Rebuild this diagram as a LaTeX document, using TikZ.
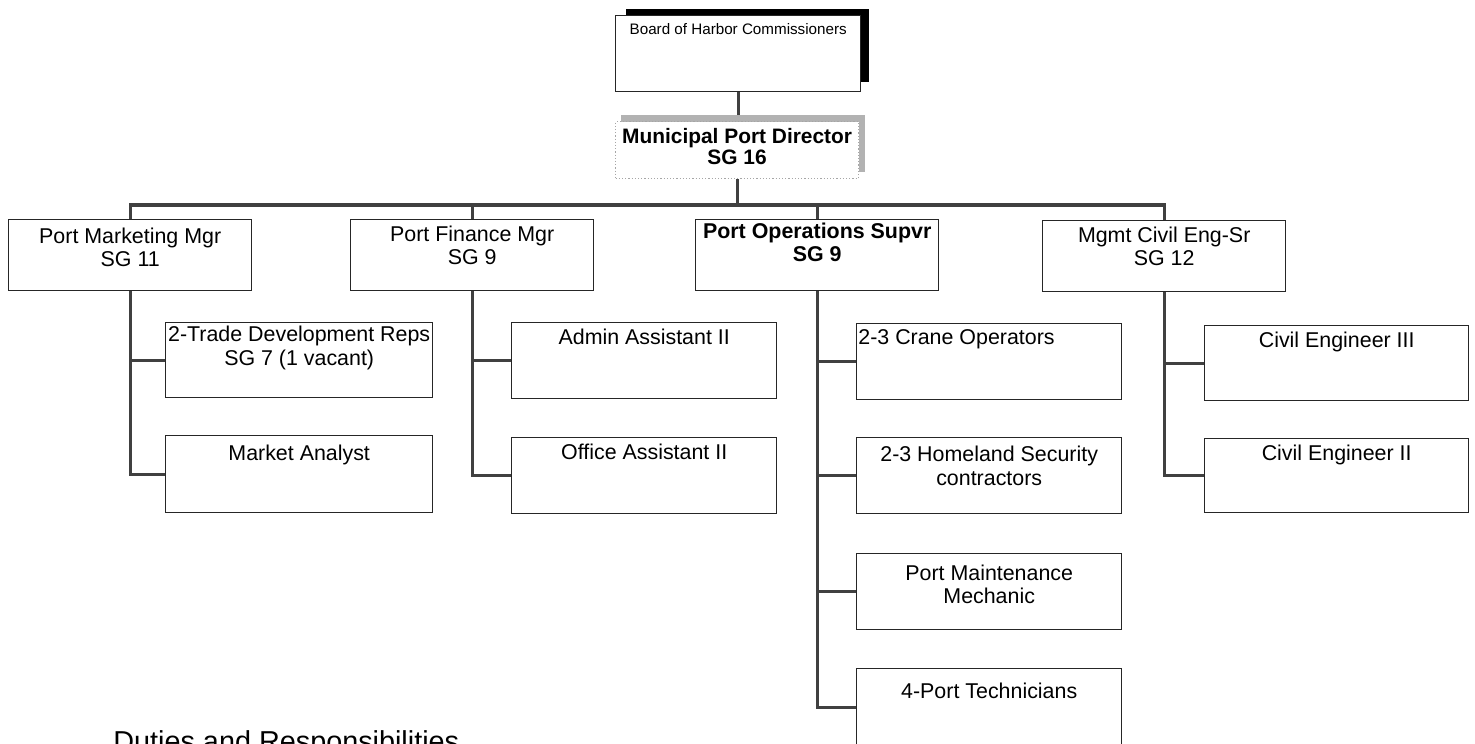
\documentclass[tikz,border=0pt]{standalone}
\usepackage{fontspec}
\setmainfont{Liberation Sans}
\usetikzlibrary{positioning}
\begin{document}
\begin{tikzpicture}[x=0.5pt,y=-0.5pt,
  box/.style={draw=black!85, line width=0.7pt, fill=white, inner sep=0pt, anchor=north west},
  dirbox/.style={draw=gray!70, densely dotted, line width=0.6pt, fill=white, inner sep=0pt, anchor=north west},
  conn/.style={draw=black!75, line width=1.6pt},
  lbl/.style={inner sep=0pt, align=center, font=\fontsize{10.7}{11.6}\selectfont},
  blbl/.style={inner sep=0pt, align=center, font=\fontsize{10.7}{11.6}\selectfont\bfseries},
  topw/.style={minimum width=121.5pt, minimum height=35.5pt},
  childw/.style={minimum width=132.5pt, minimum height=38pt}]
\clip (0,0) rectangle (1475,743);
\fill[white] (0,0) rectangle (1475,743);

% shadows
\fill[black] (626,9) rectangle (869,82);
\fill[gray!60] (621,115) rectangle (865,172);

% boxes
\node[box, minimum width=122.5pt, minimum height=38pt] (board) at (615,15) {};
\node[dirbox, minimum width=121.5pt, minimum height=28.5pt] (dir) at (615,121) {};

\node[box, topw] (pm) at (8,219) {};
\node[box, topw] (pf) at (350,219) {};
\node[box, topw] (po) at (695,219) {};
\node[box, topw] (pc) at (1042,220) {};

\node[box, minimum width=133.5pt, minimum height=37.5pt] (td) at (165,322) {};
\node[box, minimum width=133.5pt, minimum height=38.5pt] (ma) at (165,435) {};
\node[box, childw] (aa) at (511,322) {};
\node[box, childw] (oa) at (511,437) {};
\node[box, childw] (co) at (856,323) {};
\node[box, childw] (hs) at (856,437) {};
\node[box, childw] (mm) at (856,553) {};
\node[box, childw, minimum height=38.5pt] (pt) at (856,668) {};
\node[box, minimum width=132pt, minimum height=37.5pt] (c3) at (1204,325) {};
\node[box, minimum width=132pt, minimum height=37pt] (c2) at (1204,438) {};

% texts
\node[inner sep=0pt, font=\fontsize{7.6}{9}\selectfont, below=4pt of board.north] (boardt) {Board of Harbor Commissioners};
\node[inner sep=0pt, align=center, font=\fontsize{10.45}{10.4}\selectfont\bfseries, below=3.5pt of dir.north] (dirt) {Municipal Port Director\\SG 16};

\node[lbl, below=4.2pt of pm.north] (pmt) {Port Marketing Mgr\\SG 11};
\node[lbl, below=3.3pt of pf.north] (pft) {Port Finance Mgr\\SG 9};
\node[blbl, below=1.6pt of po.north] (pot) {Port Operations Supvr\\SG 9};
\node[lbl, below=3.3pt of pc.north] (pct) {Mgmt Civil Eng-Sr\\SG 12};

\node[lbl, below=2pt of td.north] (tdt) {2-Trade Development Reps\\SG 7 (1 vacant)};
\node[lbl, below=5pt of ma.north] (mat) {Market Analyst};
\node[lbl, below=3.3pt of aa.north] (aat) {Admin Assistant II};
\node[lbl, below=3.3pt of oa.north] (oat) {Office Assistant II};
\node[lbl, anchor=north west] (cot) at ([xshift=1pt,yshift=-3.3pt]co.north west) {2-3 Crane Operators};
\node[lbl, below=4.5pt of hs.north] (hst) {2-3 Homeland Security\\contractors};
\node[lbl, below=5.8pt of mm.north] (mmt) {Port Maintenance\\Mechanic};
\node[lbl, below=7.5pt of pt.north] (ptt) {4-Port Technicians};
\node[lbl, below=3.3pt of c3.north] (c3t) {Civil Engineer III};
\node[lbl, below=3.3pt of c2.north] (c2t) {Civil Engineer II};

\node[anchor=base west, inner sep=0pt, font=\fontsize{14.4}{17}\selectfont] (duties) at (113,751) {Duties and Responsibilities};

% connectors (drawn behind shadows/boxes by layering order below)
\begin{scope}[on background layer/.try]
\end{scope}
\coordinate (bus) at (737,205);
\draw[conn] (board.south) -- (board.south |- 0,115);
\draw[conn] (dir.south) -- (dir.south |- bus);
\draw[conn] (pm.north) |- (bus) -| (pc.north);
\draw[conn] (pf.north) -- (pf.north |- bus);
\draw[conn] (po.north) -- (po.north |- bus);

\draw[conn] (pm.south) |- (ma.west);
\draw[conn] (pm.south |- td.west) -- (td.west);
\draw[conn] (pf.south) |- (oa.west);
\draw[conn] (pf.south |- aa.west) -- (aa.west);
\draw[conn] (po.south) |- (pt.west);
\draw[conn] (po.south |- co.west) -- (co.west);
\draw[conn] (po.south |- hs.west) -- (hs.west);
\draw[conn] (po.south |- mm.west) -- (mm.west);
\draw[conn] (pc.south) |- (c2.west);
\draw[conn] (pc.south |- c3.west) -- (c3.west);
\end{tikzpicture}
\end{document}
